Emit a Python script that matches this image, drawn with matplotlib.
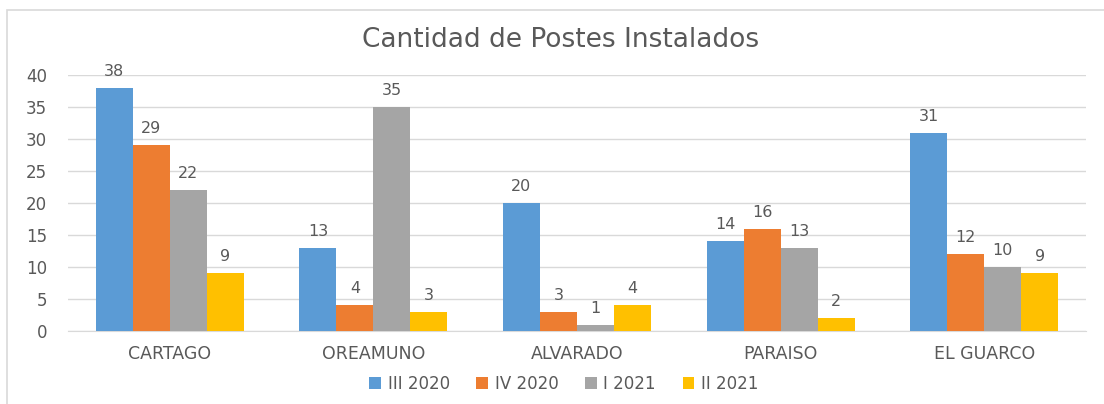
import matplotlib.pyplot as plt
from matplotlib.patches import Rectangle
import numpy as np

categories = ['CARTAGO', 'OREAMUNO', 'ALVARADO', 'PARAISO', 'EL GUARCO']
series_names = ['III 2020', 'IV 2020', 'I 2021', 'II 2021']
iii_2020 = [38, 13, 20, 14, 31]
iv_2020 = [29, 4, 3, 16, 12]
i_2021 = [22, 35, 1, 13, 10]
ii_2021 = [9, 3, 4, 2, 9]
y_ticks = [0, 5, 10, 15, 20, 25, 30, 35, 40]

colors = ['#5B9BD5', '#ED7D31', '#A5A5A5', '#FFC000']
text_color = '#595959'

plt.rcParams['font.family'] = ['DejaVu Sans']

fig = plt.figure(figsize=(11.04, 4.04), dpi=100)
ax = fig.add_axes([68 / 1104, 1 - 331 / 404, (1086 - 68) / 1104, (331 - 75) / 404])

# frame around the chart area
fig.patches.append(Rectangle((7 / 1104, -0.05), 1.2, 1 - 10 / 404 + 0.05,
                             transform=fig.transFigure, fill=False,
                             edgecolor='#D9D9D9', linewidth=1.2))

x = np.arange(len(categories))
bar_w = 37 / 203.6
series = [iii_2020, iv_2020, i_2021, ii_2021]
for i, (vals, name) in enumerate(zip(series, series_names)):
    offs = (i - 1.5) * bar_w
    bars = ax.bar(x + offs, vals, width=bar_w, color=colors[i], label=name, zorder=3)
    for b, v in zip(bars, vals):
        ax.annotate(str(v), (b.get_x() + b.get_width() / 2, v), xytext=(0, 6.5),
                    textcoords='offset points', ha='center', va='bottom',
                    fontsize=11.5, color=text_color)

ax.set_xlim(-0.5, len(categories) - 0.5)
ax.set_ylim(0, 40)
ax.set_yticks(y_ticks)
ax.set_xticks(x)
ax.set_xticklabels(categories)
ax.yaxis.grid(True, color='#D9D9D9', linewidth=1, zorder=0)
ax.set_axisbelow(True)
for s in ['top', 'right', 'left']:
    ax.spines[s].set_visible(False)
ax.spines['bottom'].set_color('#D9D9D9')
ax.tick_params(axis='both', length=0, colors=text_color, labelsize=12)
ax.tick_params(axis='x', labelsize=12.5, pad=10)
ax.tick_params(axis='y', pad=15)

fig.text(0.508, 1 - 40 / 404, 'Cantidad de Postes Instalados', ha='center', va='center',
         fontsize=19, color=text_color)

ax.legend(loc='center', bbox_to_anchor=(0.487, (331 - 384) / 256), ncol=4, frameon=False,
          fontsize=12, labelcolor=text_color, handlelength=0.7, handleheight=0.7,
          handletextpad=0.4, columnspacing=1.6)

fig.savefig('out.png', dpi=100)
